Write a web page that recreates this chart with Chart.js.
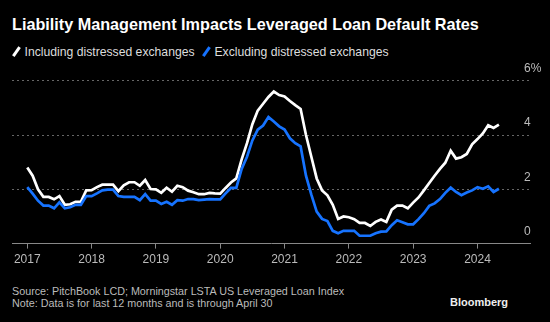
<!DOCTYPE html>
<html>
<head>
<meta charset="utf-8">
<script src="https://cdn.jsdelivr.net/npm/chart.js@4"></script>
<style>
  html, body { margin: 0; padding: 0; background: #000; }
  body { width: 550px; height: 322px; position: relative; overflow: hidden; font-family: "Liberation Sans", Arial, sans-serif; color: #fff; }
  .title { position: absolute; left: 12px; top: 15px; font-size: 16.2px; font-weight: bold; white-space: nowrap; }
  .legend { position: absolute; left: 12px; top: 45px; font-size: 12.2px; color: #ddd; white-space: nowrap; }
  .legend span.item { margin-right: 4px; }
  .swatch { display: inline-block; width: 2.5px; height: 11px; margin: 0 7px -1px 3px; transform: rotate(35deg); }
  .footer { position: absolute; left: 12px; top: 286px; font-size: 10.75px; line-height: 11.5px; color: #bbb; white-space: nowrap; }
  .brand { position: absolute; left: 450px; top: 296px; font-size: 11px; font-weight: bold; color: #eee; }
  #wrap { position: absolute; left: 0; top: 60px; width: 550px; height: 220px; }
</style>
</head>
<body>
<div class="title">Liability Management Impacts Leveraged Loan Default Rates</div>
<div class="legend">
  <span class="item"><span class="swatch" style="background:#fff"></span>Including distressed exchanges</span>
  <span class="item"><span class="swatch" style="background:#1673ff"></span>Excluding distressed exchanges</span>
</div>
<div id="wrap"><canvas id="chart"></canvas></div>
<div class="footer">Source: PitchBook LCD; Morningstar LSTA US Leveraged Loan Index<br>Note: Data is for last 12 months and is through April 30</div>
<div class="brand">Bloomberg</div>

<script>
// Trailing 12-month default rates (%), month-end, Dec 2016 .. Apr 2024
const inclRates = [
  2.8, 2.5, 2.0, 1.72, 1.72, 1.63, 1.75, 1.43, 1.45, 1.54, 1.54, 1.96,
  1.97, 2.08, 2.17, 2.17, 2.17, 1.93, 2.15, 2.26, 2.26, 2.13, 2.34, 2.01,
  2.0, 1.87, 2.06, 1.91, 2.13, 2.08, 1.95, 1.89, 1.82, 1.82, 1.87, 1.85,
  1.84, 2.05, 2.25, 2.4, 3.1, 3.7, 4.4, 4.9, 5.15, 5.4, 5.6, 5.47,
  5.42, 5.25, 5.1, 4.96, 4.0, 3.2, 2.4, 1.96, 1.78, 1.43, 0.91, 1.0,
  0.97, 0.9, 0.76, 0.76, 0.65, 0.8, 0.89, 0.8, 1.25, 1.4, 1.4, 1.3,
  1.51, 1.7, 1.96, 2.23, 2.5, 2.75, 2.98, 3.42, 3.13, 3.18, 3.3, 3.66,
  3.85, 4.06, 4.36, 4.26, 4.38
];
const exclRates = [
  2.08, 1.84, 1.58, 1.4, 1.4, 1.3, 1.52, 1.3, 1.34, 1.43, 1.43, 1.75,
  1.75, 1.85, 1.96, 1.99, 1.99, 1.75, 1.72, 1.72, 1.72, 1.6, 1.82, 1.58,
  1.58, 1.46, 1.54, 1.43, 1.6, 1.58, 1.64, 1.64, 1.6, 1.62, 1.64, 1.63,
  1.63, 1.85, 2.05, 2.05, 2.75, 3.2, 3.8, 4.2, 4.35, 4.66, 4.5, 4.32,
  4.2, 3.88, 3.7, 3.58, 2.5, 1.8, 1.18, 0.91, 0.83, 0.47, 0.38, 0.47,
  0.47, 0.47, 0.29, 0.29, 0.29, 0.38, 0.44, 0.45, 0.68, 0.86, 0.79, 0.71,
  0.71, 0.9, 1.12, 1.39, 1.48, 1.64, 1.87, 2.06, 1.9, 1.78, 1.88, 1.96,
  2.08, 2.02, 2.11, 1.9, 2.02
];
const yearLabels = ['2017', '2018', '2019', '2020', '2021', '2022', '2023', '2024'];
const yTicks = [0, 2, 4, 6];

const toPoints = arr => arr.map((v, i) => ({ x: i, y: v }));

// y tick labels sit just above their gridline, left-aligned near the right end
const yLabelPlugin = {
  id: 'yLabels',
  afterDraw(chart) {
    const { ctx, chartArea, scales } = chart;
    ctx.save();
    ctx.fillStyle = '#bbb';
    ctx.font = '12px "Liberation Sans", Arial, sans-serif';
    ctx.textAlign = 'left';
    ctx.textBaseline = 'middle';
    yTicks.forEach(v => {
      const y = scales.y.getPixelForValue(v);
      ctx.fillText(v === 6 ? '6%' : String(v), chartArea.right - 6, y - 12);
    });
    ctx.restore();
  }
};

new Chart(document.getElementById('chart'), {
  type: 'line',
  data: {
    datasets: [
      {
        label: 'Excluding distressed exchanges',
        data: toPoints(exclRates),
        borderColor: '#1673ff',
        borderWidth: 2.7,
        pointRadius: 0,
        tension: 0
      },
      {
        label: 'Including distressed exchanges',
        data: toPoints(inclRates),
        borderColor: '#ffffff',
        borderWidth: 2.7,
        pointRadius: 0,
        tension: 0
      }
    ]
  },
  options: {
    responsive: true,
    maintainAspectRatio: false,
    animation: false,
    layout: { padding: { top: 20.7, left: 12, right: 20, bottom: 9 } },
    plugins: { legend: { display: false }, tooltip: { enabled: false } },
    scales: {
      x: {
        type: 'linear',
        min: -2.85,
        max: 93.8,
        afterBuildTicks: axis => { axis.ticks = yearLabels.map((_, k) => ({ value: k * 12 })); },
        ticks: {
          color: '#bbb',
          padding: 4,
          maxRotation: 0,
          font: { family: 'Liberation Sans', size: 12 },
          callback: v => yearLabels[Math.round(v / 12)]
        },
        grid: { drawOnChartArea: false, drawTicks: true, tickLength: 5, color: '#888' },
        border: { display: true, color: '#888', width: 1 }
      },
      y: {
        position: 'right',
        min: 0,
        max: 6,
        afterBuildTicks: axis => { axis.ticks = yTicks.map(v => ({ value: v })); },
        ticks: { display: false },
        grid: { drawTicks: false, color: '#666', lineWidth: 1 },
        border: { display: false, dash: [2, 3] }
      }
    }
  },
  plugins: [yLabelPlugin]
});
</script>
</body>
</html>
